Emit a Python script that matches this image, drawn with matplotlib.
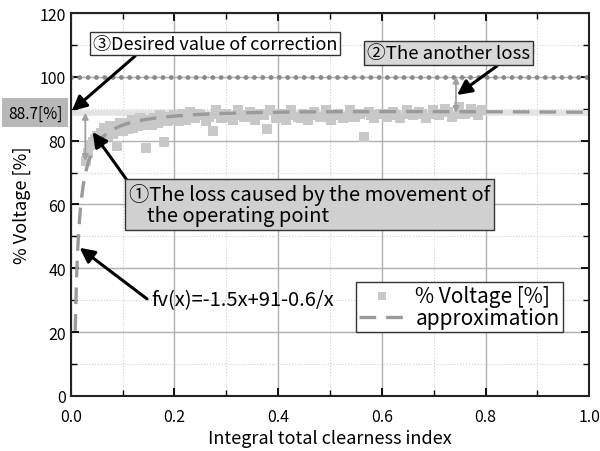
import numpy as np
import matplotlib
matplotlib.use("Agg")
import matplotlib.pyplot as plt
from matplotlib.ticker import MultipleLocator
import matplotlib.transforms as mtransforms

plt.rcParams['font.family'] = ['Noto Sans CJK JP', 'DejaVu Sans']

# measured voltage vs. integral total clearness index
kt = [0.030, 0.034, 0.038, 0.042, 0.046, 0.050, 0.052, 0.058, 0.062, 0.068,
      0.072, 0.078, 0.082, 0.088, 0.090, 0.095, 0.100, 0.104, 0.110, 0.114,
      0.120, 0.125, 0.130, 0.136, 0.140, 0.145, 0.150, 0.156, 0.160, 0.168,
      0.175, 0.180, 0.185, 0.192, 0.200, 0.208, 0.215, 0.222, 0.230, 0.240,
      0.250, 0.260, 0.274, 0.280, 0.290, 0.300, 0.312, 0.322, 0.335, 0.345,
      0.355, 0.365, 0.378, 0.385, 0.395, 0.405, 0.415, 0.425, 0.438, 0.448,
      0.458, 0.470, 0.480, 0.492, 0.502, 0.515, 0.525, 0.538, 0.548, 0.558,
      0.566, 0.575, 0.585, 0.598, 0.610, 0.622, 0.635, 0.648, 0.660, 0.672,
      0.685, 0.698, 0.710, 0.722, 0.735, 0.748, 0.760, 0.772, 0.785, 0.793,
      0.064, 0.076, 0.094, 0.118, 0.133, 0.172, 0.196, 0.226, 0.245, 0.266,
      0.285, 0.306, 0.328, 0.350, 0.372, 0.400, 0.420, 0.444, 0.465, 0.486,
      0.508, 0.530, 0.552, 0.580, 0.604, 0.628, 0.654, 0.678, 0.704, 0.728,
      0.754, 0.778]
voltage = [73.5, 76.0, 78.5, 79.5, 80.5, 81.5, 79.0, 82.5, 80.5, 83.0,
           81.5, 83.5, 82.0, 84.0, 78.3, 84.5, 83.0, 85.0, 83.5, 85.5,
           84.0, 86.0, 84.5, 86.0, 85.0, 77.7, 86.5, 85.0, 87.0, 85.5,
           87.0, 79.6, 86.0, 87.5, 88.0, 86.0, 88.5, 86.5, 89.0, 87.0,
           88.0, 86.0, 83.0, 89.5, 87.0, 88.5, 86.5, 89.5, 87.5, 89.0,
           86.5, 88.5, 83.6, 89.5, 87.0, 88.5, 86.5, 89.5, 87.5, 88.5,
           86.5, 89.0, 87.5, 89.5, 86.5, 88.5, 87.0, 89.5, 87.5, 88.5,
           81.2, 89.0, 87.0, 88.5, 87.5, 89.0, 87.0, 89.5, 88.0, 89.0,
           87.0, 89.5, 88.0, 90.0, 87.5, 90.5, 88.5, 90.0, 88.0, 89.5,
           84.0, 84.5, 85.5, 86.5, 87.0, 88.0, 86.5, 87.5, 88.5, 87.5,
           88.5, 87.5, 88.0, 87.5, 88.0, 87.5, 88.0, 87.0, 88.0, 87.5,
           88.0, 87.5, 88.5, 88.0, 88.5, 88.0, 88.5, 88.5, 88.5, 89.0,
           88.5, 89.0]

target = 88.7
reference = 100
fit_a, fit_b, fit_c = -1.5, 91.0, 0.6

fig = plt.figure(figsize=(6, 4.52), dpi=100)
ax = fig.add_axes([0.118, 0.122, 0.864, 0.847])

ax.set_xlim(0, 1.0)
ax.set_ylim(0, 120)
ax.xaxis.set_major_locator(MultipleLocator(0.2))
ax.xaxis.set_minor_locator(MultipleLocator(0.1))
ax.yaxis.set_major_locator(MultipleLocator(20))
ax.yaxis.set_minor_locator(MultipleLocator(10))
ax.grid(which='major', color='#b0b0b0', lw=1.0, ls='-')
ax.grid(which='minor', color='#cfcfcf', lw=0.8, ls=':')
ax.set_axisbelow(True)
ax.tick_params(which='both', direction='in', top=True, right=True, labelsize=11.5)
ax.tick_params(which='major', length=6, width=1.3)
ax.tick_params(which='minor', length=4, width=1.0)
ax.tick_params(axis='x', pad=9)
ax.xaxis.set_major_formatter(lambda v, p: f"{v:.1f}")
for s in ax.spines.values():
    s.set_linewidth(1.5)
    s.set_color('#222222')

# reference lines
ax.axhline(target, color='#e3e3e3', lw=4, zorder=1)
ax.axhline(reference, color='#8a8a8a', lw=3.5, ls=(0, (0.01, 1.7)),
           dash_capstyle='round', zorder=2)

ax.scatter(kt, voltage, marker='s', s=52, color='#c8c8c8', lw=0, zorder=3,
           label='% Voltage [%]')

xs = np.linspace(0.0085, 1.0, 400)
ax.plot(xs, fit_a * xs + fit_b - fit_c / xs, color='#9a9a9a', lw=2.4,
        ls=(0, (5, 3)), zorder=4, label='approximation')

ax.set_xlabel('Integral total clearness index', fontsize=13, va='center')
ax.xaxis.set_label_coords(0.5, -0.11)
ax.set_ylabel('% Voltage [%]', fontsize=13, labelpad=6)

# loss arrows (grey double-headed)
gray_arrow = dict(arrowstyle='<|-|>', color='#a0a0a0', lw=1.3,
                  mutation_scale=9, shrinkA=0, shrinkB=0)
ax.annotate('', xy=(0.028, 73.6), xytext=(0.028, target), arrowprops=gray_arrow, zorder=5)
ax.annotate('', xy=(0.743, target), xytext=(0.743, reference), arrowprops=gray_arrow, zorder=5)

black_arrow = dict(arrowstyle='-|>', color='black', lw=2.2,
                   mutation_scale=22, shrinkA=0, shrinkB=0)

# 88.7[%] tag left of the axis
blend = mtransforms.blended_transform_factory(ax.transAxes, ax.transData)
ax.text(-0.069, target, f'{target}[%]', transform=blend, ha='center', va='center',
        fontsize=11, clip_on=False,
        bbox=dict(boxstyle='square,pad=0.4', fc='#b8b8b8', ec='none'))

# (3) desired value
ax.annotate('', xy=(0.002, 89.3), xytext=(0.124, 106.5), arrowprops=black_arrow, zorder=6)
ax.text(0.043, 110.4, '③Desired value of correction', ha='left', va='center',
        fontsize=13, zorder=7,
        bbox=dict(boxstyle='square,pad=0.15', fc='white', ec='#333333', lw=1))

# (2) another loss
ax.annotate('', xy=(0.745, 94.3), xytext=(0.822, 103.4), arrowprops=black_arrow, zorder=6)
ax.text(0.571, 107.5, '②The another loss', ha='left', va='center',
        fontsize=13.4, zorder=7,
        bbox=dict(boxstyle='square,pad=0.15', fc='#d8d8d8', ec='#333333', lw=1))

# (1) operating point loss
ax.annotate('', xy=(0.042, 82.7), xytext=(0.108, 67.7), arrowprops=black_arrow, zorder=6)
ax.text(0.112, 60.0, '①The loss caused by the movement of\n    the operating point',
        ha='left', va='center', fontsize=14.5, linespacing=1.05, zorder=7,
        bbox=dict(boxstyle='square,pad=0.2', fc='#d0d0d0', ec='#333333', lw=1))

# fitted function label
ax.annotate('', xy=(0.017, 46.4), xytext=(0.147, 30.4), arrowprops=black_arrow, zorder=6)
ax.text(0.156, 30.1, 'fv(x)=-1.5x+91-0.6/x', ha='left', va='center', fontsize=14.5, zorder=7)

leg = ax.legend(loc='lower left', bbox_to_anchor=(0.55, 0.167), fontsize=15,
                frameon=True, fancybox=False, framealpha=1, edgecolor='#333333',
                handlelength=2.2, borderpad=0.15, labelspacing=0.0, handletextpad=0.5,
                borderaxespad=0, markerscale=0.8)
leg.get_frame().set_linewidth(1.0)
leg.set_zorder(8)

fig.savefig('out.png', dpi=100)
